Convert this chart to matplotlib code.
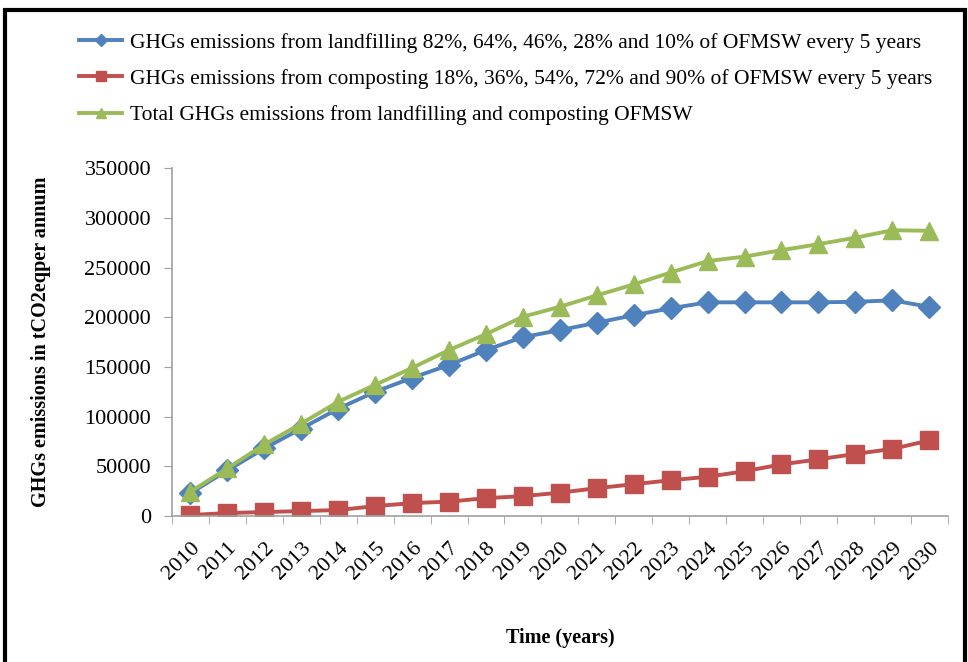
import matplotlib
matplotlib.use("Agg")
import matplotlib.pyplot as plt
from matplotlib.patches import Rectangle
import numpy as np

plt.rcParams['font.family'] = ['Liberation Serif', 'DejaVu Serif']

years = [str(y) for y in range(2010, 2031)]
landfill = [23000, 46000, 68000, 88000, 108000, 125000, 139000, 152000, 167000, 180000,
            187000, 194500, 202000, 209000, 215000, 215000, 215000, 215000, 215500, 217000, 210500]
compost = [1000, 3000, 4000, 5000, 6000, 10000, 13000, 14500, 18000, 20000,
           23500, 28000, 32000, 36000, 39500, 45000, 52000, 57000, 62500, 67500, 76000]
total = [24500, 48000, 72000, 93000, 115000, 132000, 149000, 167000, 183000, 200500,
         210500, 222000, 233000, 245000, 256500, 261000, 267500, 273500, 280000, 287500, 287000]

lab1 = "GHGs emissions from landfilling 82%, 64%, 46%, 28% and 10% of OFMSW every 5 years"
lab2 = "GHGs emissions from composting 18%, 36%, 54%, 72% and 90% of OFMSW every 5 years"
lab3 = "Total GHGs emissions from landfilling and composting OFMSW"

fig = plt.figure(figsize=(9.68, 6.62), dpi=100)
ax = fig.add_axes([0.1777, 0.2205, 0.979 - 0.1777, 0.746 - 0.2205])

x = np.arange(len(years))
ax.plot(x, landfill, color='#4F81BD', lw=2.8, marker='D', ms=11, label=lab1)
ax.plot(x, compost, color='#C0504D', lw=2.8, marker='s', ms=13, label=lab2)
ax.plot(x, total, color='#9BBB59', lw=2.8, marker='^', ms=13, label=lab3)

ax.set_xlim(-0.5, len(years) - 0.5)
ax.set_ylim(0, 350000)
ax.set_yticks(np.arange(0, 350001, 50000))
ax.set_xticks(x)
ax.set_xticklabels(years, rotation=45, ha='right', rotation_mode='anchor')
ax.set_xticks(np.arange(-0.5, len(years)), minor=True)
ax.tick_params(axis='x', which='major', length=0, labelsize=16, pad=16)
ax.tick_params(axis='x', which='minor', length=6, color='#A0A0A0', direction='out')
ax.tick_params(axis='y', length=6, color='#A0A0A0', labelsize=16, pad=9)

for s in ['top', 'right']:
    ax.spines[s].set_visible(False)
for s in ['left', 'bottom']:
    ax.spines[s].set_color('#A0A0A0')
    ax.spines[s].set_linewidth(1.2)

ax.set_ylabel("GHGs emissions in tCO2eqper annum", fontsize=14.5, fontweight='bold', labelpad=24)
ax.set_xlabel("Time (years)", fontsize=14.5, fontweight='bold', labelpad=32)

leg = fig.legend(loc='upper left', bbox_to_anchor=(0.062, 0.98), frameon=False,
                 fontsize=15.5, handlelength=2.0, handletextpad=0.35, labelspacing=0.75,
                 markerscale=0.6)

fig.patches.append(Rectangle((0.005, -0.1), 0.992, 1.085, transform=fig.transFigure,
                             fill=False, edgecolor='black', lw=3))

fig.savefig("out.png", dpi=100)
